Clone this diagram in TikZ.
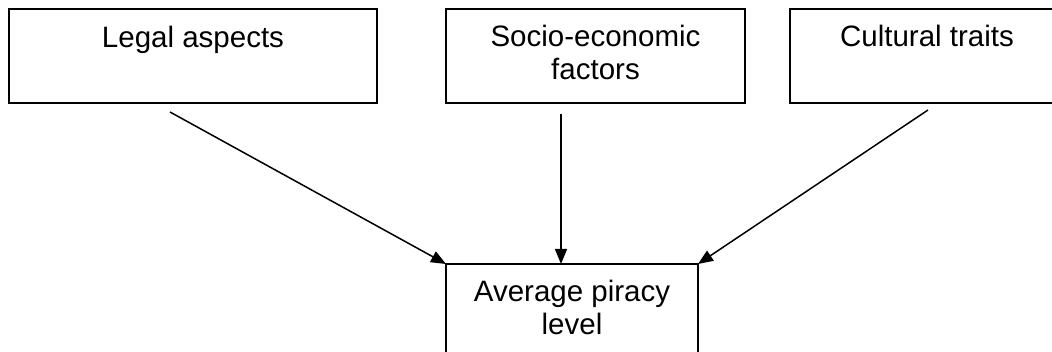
\documentclass[tikz,border=0pt]{standalone}
\usepackage{fontspec}
\setmainfont{Liberation Sans}
\usetikzlibrary{arrows.meta}
\begin{document}
\begin{tikzpicture}[x=1pt,y=-1pt,
  box/.style={draw=black, line width=2pt, rectangle, inner sep=0pt, outer sep=0pt},
  lbl/.style={anchor=base, inner sep=0pt, font=\fontsize{29.5}{33}\selectfont},
  conn/.style={draw=black, line width=1.5pt, -{Triangle[length=15pt,width=12pt]}}]
\useasboundingbox (0,0) rectangle (1052,352);
\clip (0,0) rectangle (1052,352);
% boxes
\node[box, minimum width=368pt, minimum height=94pt] (legal) at (193,56) {};
\node[box, minimum width=299pt, minimum height=94pt] (socio) at (595.5,56) {};
\node[box, minimum width=274pt, minimum height=94pt] (cult) at (927,56) {};
\node[box, minimum width=252pt, minimum height=100pt] (avg) at (572,314) {};
% labels
\node[lbl] (tlegal) at (193,48) {Legal aspects};
\node[lbl] (tsocio1) at (595.5,47) {Socio-economic};
\node[lbl] (tsocio2) at (595.5,80) {factors};
\node[lbl] (tcult) at (927,47) {Cultural traits};
\node[lbl] (tavg1) at (572,302) {Average piracy};
\node[lbl] (tavg2) at (572,335) {level};
% connector start points
\coordinate (s1) at (170,112);
\coordinate (s2) at (561,114);
\coordinate (s3) at (928,110);
\draw[conn] (s1) -- (avg.north west);
\draw[conn] (s2) -- (s2 |- avg.north);
\draw[conn] (s3) -- (avg.north east);
\end{tikzpicture}
\end{document}
